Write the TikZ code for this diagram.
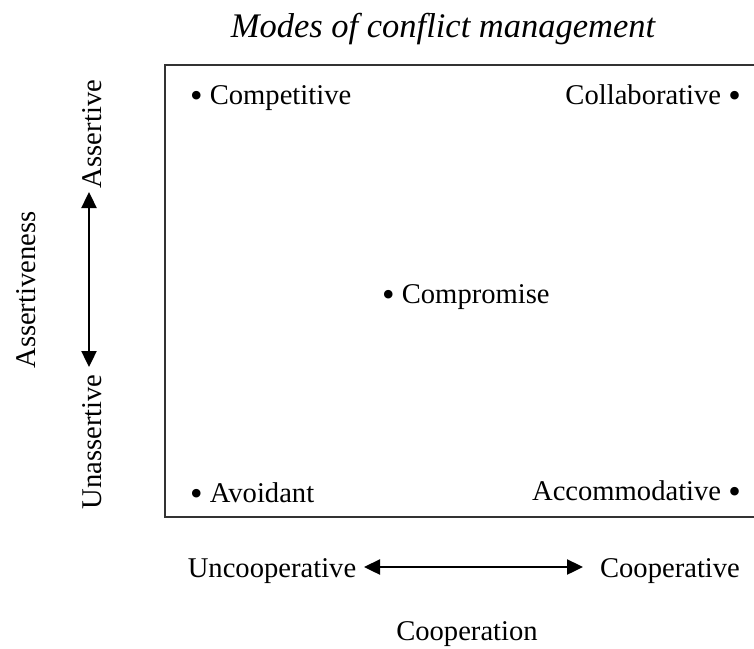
\documentclass[tikz,border=0pt]{standalone}
\usepackage{fontspec}
\setmainfont{Liberation Serif}
\usetikzlibrary{arrows.meta}
\newcommand{\bul}{\raisebox{-0.11em}{\scalebox{1.25}{\textbullet}}}
\begin{document}
\begin{tikzpicture}[x=1pt,y=-1pt,
  lbl/.style={font=\fontsize{28.6}{31}\selectfont, inner sep=0pt},
  dbl/.style={line width=2.4pt, {Triangle[length=16pt,width=15pt]}-{Triangle[length=16pt,width=15pt]}},
  frame/.style={line width=2pt, draw=black!80}]
\useasboundingbox (0,0) rectangle (754,648);
\draw[frame] (760,65) -- (165,65) -- (165,517) -- (760,517);
\node[lbl, font=\fontsize{34.5}{36}\selectfont\itshape] (title) at (443,29) {Modes of conflict management};
\node[lbl, anchor=west] (comp) at (190,98) {\bul\ Competitive};
\node[lbl, anchor=east] (coll) at (741,96) {Collaborative \bul};
\node[lbl, anchor=west] (compr) at (382,297) {\bul\ Compromise};
\node[lbl, anchor=west] (avoid) at (190,494) {\bul\ Avoidant};
\node[lbl, anchor=east] (acc) at (741,492) {Accommodative \bul};
\node[lbl, rotate=90] (ass) at (92,134) {Assertive};
\node[lbl, rotate=90] (unass) at (92,442) {Unassertive};
\node[lbl, rotate=90] (assn) at (26,290) {Assertiveness};
\node[lbl] (unc) at (272,571) {Uncooperative};
\node[lbl] (coop) at (670,571) {Cooperative};
\node[lbl] (cooper) at (467,634) {Cooperation};
\coordinate (vt) at (89,192);
\coordinate (vb) at (89,367);
\coordinate (hl) at (364,567);
\coordinate (hr) at (583,567);
\draw[dbl] (vt) -- (vb);
\draw[dbl] (hl) -- (hr);
\end{tikzpicture}
\end{document}
